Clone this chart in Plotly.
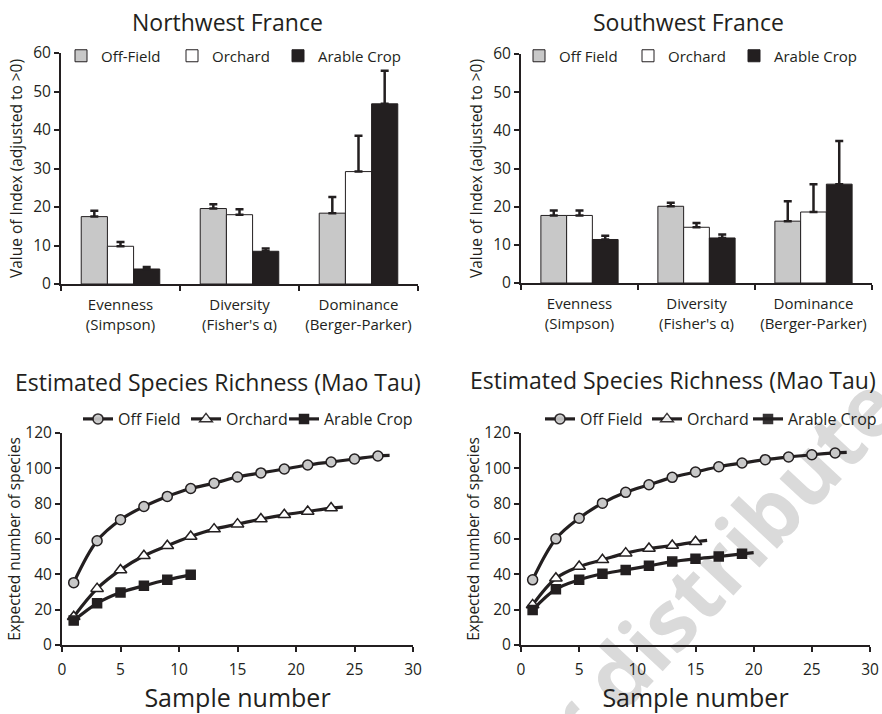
import plotly.graph_objects as go

# ---------------- data ----------------
categories = ["Evenness<br>(Simpson)", "Diversity<br>(Fisher's α)", "Dominance<br>(Berger-Parker)"]

nw_off = [17.5, 19.6, 18.4]
nw_off_err = [1.5, 1.1, 4.2]
nw_orch = [9.8, 18.0, 29.2]
nw_orch_err = [1.1, 1.4, 9.3]
nw_arable = [3.9, 8.5, 46.8]
nw_arable_err = [0.5, 0.7, 8.6]

sw_off = [17.7, 20.1, 16.2]
sw_off_err = [1.3, 0.9, 5.2]
sw_orch = [17.7, 14.6, 18.6]
sw_orch_err = [1.3, 1.1, 7.3]
sw_arable = [11.4, 11.8, 25.9]
sw_arable_err = [1.0, 0.9, 11.3]

# Mao Tau curves (samples; last point = curve end without marker where applicable)
nw_off_x = [1, 3, 5, 7, 9, 11, 13, 15, 17, 19, 21, 23, 25, 27, 28]
nw_off_y = [35.3, 59.0, 70.9, 78.4, 84.1, 88.6, 91.6, 95.1, 97.4, 99.6, 101.9, 103.6, 105.3, 107.0, 107.3]
nw_orch_x = [1, 3, 5, 7, 9, 11, 13, 15, 17, 19, 21, 23, 24]
nw_orch_y = [16.0, 31.9, 42.5, 50.5, 56.2, 61.4, 65.6, 68.4, 71.3, 73.7, 75.6, 77.5, 78.0]
nw_arable_x = [1, 3, 5, 7, 9, 11]
nw_arable_y = [13.8, 23.6, 29.7, 33.5, 36.9, 39.7]

sw_off_x = [1, 3, 5, 7, 9, 11, 13, 15, 17, 19, 21, 23, 25, 27, 28]
sw_off_y = [36.9, 60.1, 71.8, 80.3, 86.4, 90.7, 94.9, 97.9, 100.9, 103.0, 104.9, 106.4, 107.7, 108.7, 109.0]
sw_orch_x = [1, 3, 5, 7, 9, 11, 13, 15, 16]
sw_orch_y = [22.7, 37.8, 44.4, 48.2, 52.0, 54.6, 56.3, 58.4, 59.2]
sw_arable_x = [1, 3, 5, 7, 9, 11, 13, 15, 17, 19, 20]
sw_arable_y = [19.8, 31.6, 36.9, 40.3, 42.5, 44.8, 47.2, 48.8, 50.1, 51.6, 52.3]

watermark_text = "or distribute"

# ---------------- style ----------------
FONT = "Open Sans"
INK = "#231f20"
GRAY = "#c8c8c8"
W, H = 882, 714

fig = go.Figure()
legend_layout = {}


def new_legend(x_px, y_px, size):
    idx = len(legend_layout) + 1
    key = "legend" if idx == 1 else f"legend{idx}"
    legend_layout[key] = dict(x=x_px / W, y=1 - y_px / H, xanchor="left", yanchor="middle",
                              font=dict(family=FONT, size=size, color=INK),
                              bgcolor="rgba(0,0,0,0)", borderwidth=0, itemwidth=30)
    return key


def add_bars(vals, errs, name, color, xa, ya, leg_pos):
    leg = new_legend(*leg_pos, 15)
    fig.add_trace(go.Bar(
        x=categories, y=vals, name=name, xaxis=xa, yaxis=ya, legend=leg,
        marker=dict(color=color, line=dict(color=INK, width=1)),
        error_y=dict(type="data", symmetric=False, array=errs,
                     arrayminus=[0] * len(errs), color=INK, thickness=2.5, width=4),
    ))


TOP_LEG_Y = 56
add_bars(nw_off, nw_off_err, "Off-Field", GRAY, "x", "y", (61, TOP_LEG_Y))
add_bars(nw_orch, nw_orch_err, "Orchard", "white", "x", "y", (172, TOP_LEG_Y))
add_bars(nw_arable, nw_arable_err, "Arable Crop", INK, "x", "y", (278, TOP_LEG_Y))
add_bars(sw_off, sw_off_err, "Off Field", GRAY, "x2", "y2", (519, TOP_LEG_Y))
add_bars(sw_orch, sw_orch_err, "Orchard", "white", "x2", "y2", (628, TOP_LEG_Y))
add_bars(sw_arable, sw_arable_err, "Arable Crop", INK, "x2", "y2", (734, TOP_LEG_Y))


def add_curve(xs, ys, name, symbol, fill, size, xa, ya, leg_pos, tail):
    leg = new_legend(*leg_pos, 16)
    n = len(xs)
    op = [1.0] * n
    if tail:
        op[-1] = 0.0
    fig.add_trace(go.Scatter(
        x=xs, y=ys, name=name, xaxis=xa, yaxis=ya, legend=leg,
        mode="lines+markers",
        line=dict(color=INK, width=3.2, shape="spline", smoothing=1),
        marker=dict(symbol=symbol, color=fill, size=size, opacity=op,
                    line=dict(color=INK, width=1.5)),
    ))


BOT_LEG_Y = 419
add_curve(nw_off_x, nw_off_y, "Off Field", "circle", GRAY, 10, "x3", "y3", (78, BOT_LEG_Y), True)
add_curve(nw_orch_x, nw_orch_y, "Orchard", "triangle-up", "white", 11, "x3", "y3", (186, BOT_LEG_Y), True)
add_curve(nw_arable_x, nw_arable_y, "Arable Crop", "square", INK, 9, "x3", "y3", (284, BOT_LEG_Y), False)
add_curve(sw_off_x, sw_off_y, "Off Field", "circle", GRAY, 10, "x4", "y4", (540, BOT_LEG_Y), True)
add_curve(sw_orch_x, sw_orch_y, "Orchard", "triangle-up", "white", 11, "x4", "y4", (647, BOT_LEG_Y), True)
add_curve(sw_arable_x, sw_arable_y, "Arable Crop", "square", INK, 9, "x4", "y4", (748, BOT_LEG_Y), True)


def px_x(a, b):
    return [a / W, b / W]


def px_y(top, bottom):
    return [1 - bottom / H, 1 - top / H]


tickfont = dict(family=FONT, size=15.5, color=INK)
axis_common = dict(showline=True, linecolor=INK, linewidth=2, ticks="outside",
                   tickcolor=INK, tickwidth=2, ticklen=5, showgrid=False,
                   zeroline=False, tickfont=tickfont, automargin=False)

bar_x = dict(axis_common, type="category", range=[-0.5, 2.5], tickson="boundaries",
             tickfont=dict(family=FONT, size=15, color=INK), ticklabelstandoff=6)
bar_y = dict(axis_common, range=[0, 60], dtick=10,
             title=dict(text="Value of Index (adjusted to >0)",
                        font=dict(family=FONT, size=15.5, color=INK), standoff=7))

line_x = dict(axis_common, range=[0, 30], dtick=5, ticklabelstandoff=4,
              title=dict(text="Sample number", font=dict(family=FONT, size=25, color=INK),
                         standoff=19))
line_y = dict(axis_common, range=[0, 120], dtick=20,
              title=dict(text="Expected number of species",
                         font=dict(family=FONT, size=15.5, color=INK), standoff=0))

fig.update_layout(
    width=W, height=H,
    margin=dict(l=0, r=0, t=0, b=0, autoexpand=False),
    paper_bgcolor="white", plot_bgcolor="rgba(0,0,0,0)",
    font=dict(family=FONT, color=INK),
    barmode="group", bargap=0.34, bargroupgap=0,
    xaxis=dict(bar_x, domain=px_x(61, 418), anchor="y"),
    yaxis=dict(bar_y, domain=px_y(53, 284), anchor="x"),
    xaxis2=dict(bar_x, domain=px_x(521, 872), anchor="y2"),
    yaxis2=dict(bar_y, domain=px_y(54, 283), anchor="x2"),
    xaxis3=dict(line_x, domain=px_x(62, 413), anchor="y3"),
    yaxis3=dict(line_y, domain=px_y(433, 645), anchor="x3"),
    xaxis4=dict(line_x, domain=px_x(521, 870), anchor="y4"),
    yaxis4=dict(line_y, domain=px_y(433, 645), anchor="x4"),
    showlegend=True,
    **legend_layout,
)

titles = [
    ("Northwest France", 227, 22),
    ("Southwest France", 688, 22),
    ("Estimated Species Richness (Mao Tau)", 218, 382),
    ("Estimated Species Richness (Mao Tau)", 673, 380),
]
for text, cx, cy in titles:
    fig.add_annotation(text=text, x=cx / W, y=1 - cy / H, xref="paper", yref="paper",
                       showarrow=False, xanchor="center", yanchor="middle",
                       font=dict(family=FONT, size=23, color=INK))

# faint watermark behind the traces
wx, wy = 706, 586
fig.add_shape(type="rect", xref="paper", yref="paper", layer="below",
              x0=(wx - 1) / W, x1=(wx + 1) / W, y0=1 - (wy + 1) / H, y1=1 - (wy - 1) / H,
              line=dict(width=0), fillcolor="rgba(0,0,0,0)",
              label=dict(text=watermark_text, textangle=-47, textposition="middle center",
                         font=dict(family=FONT, size=84, color="#dadada", weight="bold")))

fig.write_html("out.html", config={"displayModeBar": False},
               post_script="document.body.style.margin='0';")
